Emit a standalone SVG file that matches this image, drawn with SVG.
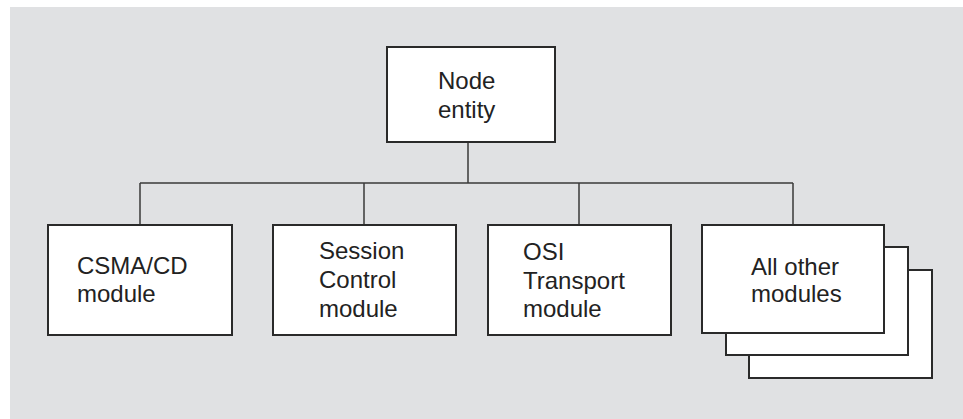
<svg xmlns="http://www.w3.org/2000/svg" width="963" height="419" viewBox="0 0 963 419">
<style>
.box{fill:#ffffff;stroke:#2a2a2a;stroke-width:2}
.lbl{font-family:"Liberation Sans",Arial,Helvetica,sans-serif;font-size:24px;fill:#222222}
.con{fill:none;stroke:#3a3a3a;stroke-width:1.5}
</style>
<rect x="10" y="7" width="953" height="412" fill="#e0e1e3"/>
<g id="connectors">
<path class="con" d="M468 142 V183 M140 183 H793 M140 183 V225 M364 183 V225 M579 183 V225 M793 183 V225"/>
</g>
<g id="node-entity">
<rect class="box" x="387" y="47" width="168" height="95"/>
<text class="lbl" x="438" y="89">Node</text>
<text class="lbl" x="438" y="118">entity</text>
</g>
<g id="csma-cd">
<rect class="box" x="48" y="225" width="184" height="110"/>
<text class="lbl" x="77" y="274">CSMA/CD</text>
<text class="lbl" x="77" y="302">module</text>
</g>
<g id="session-control">
<rect class="box" x="273" y="225" width="183" height="110"/>
<text class="lbl" x="319" y="259">Session</text>
<text class="lbl" x="319" y="288">Control</text>
<text class="lbl" x="319" y="317">module</text>
</g>
<g id="osi-transport">
<rect class="box" x="488" y="225" width="183" height="110"/>
<text class="lbl" x="523" y="260">OSI</text>
<text class="lbl" x="523" y="289">Transport</text>
<text class="lbl" x="523" y="317">module</text>
</g>
<g id="all-other">
<rect class="box" x="749" y="270" width="183" height="108"/>
<rect class="box" x="726" y="247" width="182" height="108"/>
<rect class="box" x="702" y="225" width="182" height="108"/>
<text class="lbl" x="751" y="275">All other</text>
<text class="lbl" x="751" y="302">modules</text>
</g>
</svg>
